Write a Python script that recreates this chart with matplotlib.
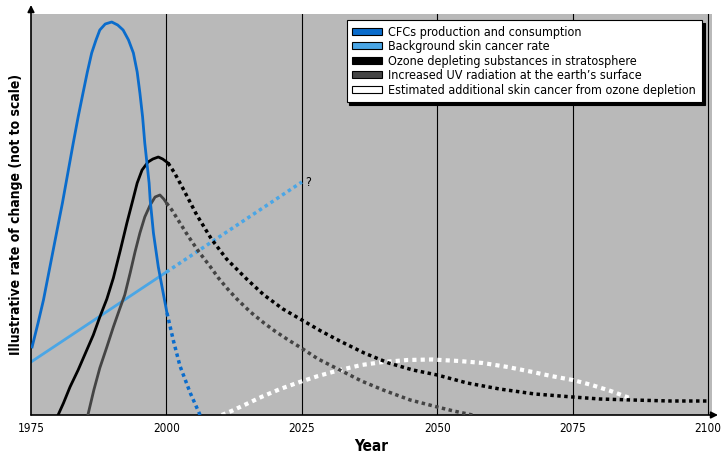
import matplotlib.pyplot as plt
from matplotlib.patches import Patch

plt.rcParams['font.family'] = ['DejaVu Sans']
plt.rcParams['font.stretch'] = 'condensed'

# ================================
# DATA (read off the reference, not to scale)
# ================================
cfc_years = [1975.2, 1976.3, 1977.3, 1978.2, 1979.1, 1980.0, 1980.8, 1981.8, 1982.8,
             1983.7, 1984.6, 1985.4, 1986.2, 1987.0, 1987.7, 1988.7, 1989.9, 1991.0,
             1992.0, 1993.0, 1993.9, 1994.6, 1995.1, 1995.6, 1996.0, 1996.4, 1996.8,
             1997.0, 1997.6, 1998.5, 1999.4, 2000.1]
cfc_vals = [68, 92, 115, 140, 165, 190, 212, 242, 272,
            298, 322, 343, 362, 375, 385, 391, 393, 390,
            385, 375, 362, 343, 322, 298, 272, 252, 232,
            215, 182, 148, 122, 102]
cfc_future_years = [2000.1, 2001.3, 2002.5, 2004.4, 2006.2]
cfc_future_vals = [102, 74, 49, 22, 0]

bg_years = [1975, 1987.5, 2000]
bg_vals = [53, 98, 143]
bg_future_years = [2000, 2012.5, 2025]
bg_future_vals = [143, 188, 233]

ods_years = [1980, 1981, 1982.2, 1983.7, 1985.3, 1986.5, 1987.7, 1989, 1990.2, 1991.5,
             1992.7, 1993.8, 1994.6, 1995.5, 1996.6, 1997.5, 1998.5, 1999.3, 2000.3]
ods_vals = [0, 12, 28, 45, 65, 80, 98, 116, 137, 165,
            192, 215, 232, 245, 253, 256, 258, 256, 252]
ods_future_years = [2000.3, 2001.5, 2003.1, 2005.6, 2008.3, 2011.1, 2014.8, 2018, 2021.5,
                    2025, 2028.5, 2032, 2036.5, 2041, 2045.5, 2050, 2055.5, 2061.5,
                    2068, 2075, 2080, 2086, 2093, 2100]
ods_future_vals = [252, 242, 226, 200, 176, 156, 136, 120, 106,
                   95, 84, 74, 62, 52, 45, 40, 32, 26,
                   21, 18, 16, 15, 14, 14]

uv_years = [1985.5, 1986.6, 1987.7, 1989, 1990.2, 1991.3, 1992.3, 1993.3, 1994.2,
            1995.1, 1996, 1997, 1997.9, 1998.8, 1999.5, 2000]
uv_vals = [0, 25, 47, 68, 88, 105, 120, 142, 163,
           182, 198, 210, 218, 220, 216, 212]
uv_future_years = [2000, 2001, 2002.5, 2004, 2006, 2008, 2009.6, 2011.3, 2013, 2015.5,
                   2018, 2020, 2022.5, 2024.6, 2028, 2032, 2036, 2040, 2045, 2050,
                   2053, 2056.5]
uv_future_vals = [212, 205, 192, 179, 163, 149, 137, 126, 116, 103,
                  92, 84, 75, 68, 56, 45, 34, 25, 15, 8,
                  4, 0]

skin_years = [2010.2, 2012, 2014, 2017.5, 2021, 2024.6, 2028, 2032, 2036, 2040, 2044.5,
              2049, 2054, 2058.4, 2063, 2067.6, 2071, 2075, 2078.5, 2082, 2086]
skin_vals = [0, 4, 9, 18, 26, 33, 39, 45, 50, 53, 55,
             55.5, 54, 52, 48, 43, 39, 35, 30, 24, 16]

xticks = [1975, 2000, 2025, 2050, 2075, 2100]
legend_labels = ['CFCs production and consumption',
                 'Background skin cancer rate',
                 'Ozone depleting substances in stratosphere',
                 'Increased UV radiation at the earth\u2019s surface',
                 'Estimated additional skin cancer from ozone depletion']

c_cfc = '#0a6ccc'
c_bg = '#4aa6e6'
c_ods = '#000000'
c_uv = '#444444'
c_skin = '#ffffff'

# ================================
# CHART
# ================================
fig = plt.figure(figsize=(7.26, 4.58), dpi=100)
ax = fig.add_axes([31 / 726, 1 - 415 / 458, 681 / 726, 401 / 458])
ax.set_facecolor('#b9b9b9')
ax.set_xlim(1975, 2100.7)
ax.set_ylim(0, 401)

for x in xticks[1:]:
    ax.axvline(x, color='black', lw=0.8, zorder=1)

dot = (0, (1, 1))
ax.plot(skin_years, skin_vals, color=c_skin, lw=3, ls=dot, zorder=2)
ax.plot(bg_years, bg_vals, color=c_bg, lw=2, zorder=3)
ax.plot(bg_future_years, bg_future_vals, color=c_bg, lw=2.5, ls=dot, zorder=3)
ax.plot(uv_years, uv_vals, color=c_uv, lw=2, zorder=4)
ax.plot(uv_future_years, uv_future_vals, color=c_uv, lw=2.5, ls=dot, zorder=4)
ax.plot(ods_years, ods_vals, color=c_ods, lw=2, zorder=5)
ax.plot(ods_future_years, ods_future_vals, color=c_ods, lw=2.5, ls=dot, zorder=5)
ax.plot(cfc_years, cfc_vals, color=c_cfc, lw=2, zorder=6)
ax.plot(cfc_future_years, cfc_future_vals, color=c_cfc, lw=2.5, ls=dot, zorder=6)

ax.text(2025.7, 233, '?', fontsize=9, va='center', ha='left')

for s in ax.spines.values():
    s.set_visible(False)
ax.annotate('', xy=(1.0088, 0), xytext=(0, 0), xycoords='axes fraction',
            arrowprops=dict(arrowstyle='-|>', color='black', lw=1.2,
                            mutation_scale=10, shrinkA=0, shrinkB=0))
ax.annotate('', xy=(0, 1.0224), xytext=(0, 0), xycoords='axes fraction',
            arrowprops=dict(arrowstyle='-|>', color='black', lw=1.2,
                            mutation_scale=10, shrinkA=0, shrinkB=0))

ax.set_xticks(xticks)
ax.set_xticklabels([str(x) for x in xticks], fontsize=8.5)
ax.set_yticks([])
ax.tick_params(axis='x', length=0, pad=5)
ax.set_xlabel('Year', fontsize=11, fontweight='bold', labelpad=3)
ax.set_ylabel('Illustrative rate of change (not to scale)', fontsize=10,
              fontweight='bold', labelpad=6)

handles = [Patch(facecolor=c, edgecolor='black', lw=0.8)
           for c in [c_cfc, c_bg, c_ods, c_uv, c_skin]]
leg = ax.legend(handles, legend_labels, loc='upper right',
                bbox_to_anchor=(0.985, 0.985),
                prop=dict(size=9, stretch='condensed'), frameon=True,
                fancybox=False, edgecolor='black', framealpha=1,
                shadow={'color': 'black', 'alpha': 1},
                handlelength=2.4, handleheight=0.45, handletextpad=0.5,
                labelspacing=0.12, borderpad=0.45, borderaxespad=0)
leg.get_frame().set_linewidth(0.8)

plt.savefig('out.png', dpi=100)
